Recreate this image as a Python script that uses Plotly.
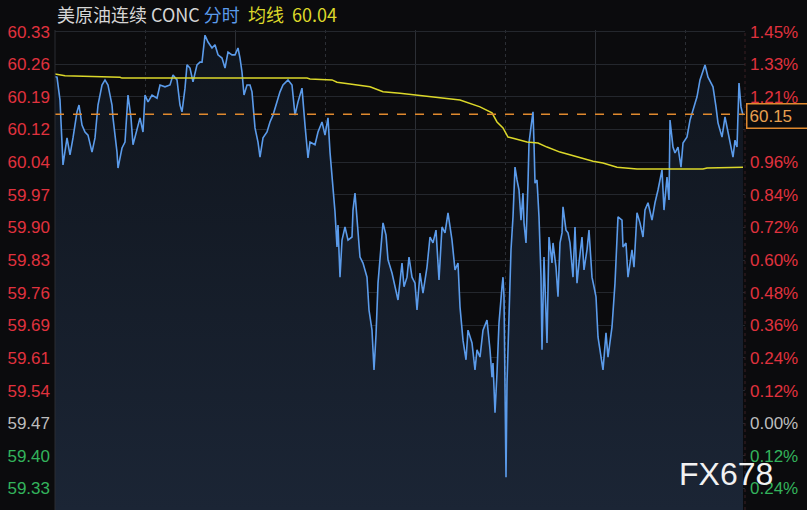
import plotly.graph_objects as go

# minutes since session open (0..1380) and price
t = [0, 4, 10, 14, 16, 24, 30, 36, 44, 48, 54, 60, 66, 74, 80, 86, 94, 100, 106, 114, 116, 124, 126, 134, 140,
     146, 152, 156, 164, 170, 176, 180, 186, 194, 204, 210, 220, 230, 236, 244, 250, 254, 260, 264, 270, 276,
     284, 290, 294, 300, 306, 314, 320, 326, 334, 340, 346, 354, 360, 366, 370, 374, 378, 384, 390, 394, 400,
     406, 410, 416, 424, 430, 436, 444, 450, 456, 466, 474, 480, 486, 494, 500, 506, 510, 520, 526, 534, 540,
     546, 550, 554, 560, 564, 566, 570, 574, 580, 586, 594, 596, 600, 604, 610, 616, 624, 628, 634, 638, 642,
     646, 652, 656, 662, 666, 674, 680, 686, 694, 698, 704, 708, 714, 720, 724, 730, 736, 744, 750, 756, 762,
     768, 774, 780, 786, 794, 800, 806, 810, 816, 822, 826, 834, 840, 844, 850, 856, 864, 870, 874, 876, 880,
     884, 888, 894, 896, 898, 902, 904, 908, 912, 916, 920, 924, 928, 932, 936, 938, 942, 946, 948, 952, 956,
     958, 960, 964, 968, 972, 974, 978, 982, 984, 988, 994, 996, 1002, 1006, 1010, 1014, 1016, 1022, 1026,
     1030, 1036, 1040, 1044, 1048, 1054, 1058, 1064, 1068, 1074, 1078, 1082, 1086, 1090, 1094, 1096, 1102,
     1106, 1114, 1120, 1126, 1134, 1136, 1142, 1146, 1154, 1158, 1164, 1170, 1176, 1180, 1186, 1194, 1200,
     1206, 1214, 1218, 1224, 1228, 1230, 1236, 1240, 1246, 1252, 1256, 1264, 1270, 1276, 1284, 1290, 1300,
     1306, 1312, 1316, 1322, 1326, 1334, 1340, 1344, 1350, 1356, 1360, 1364, 1368, 1372, 1376]
price = [60.232, 60.231, 60.181, 60.093, 60.039, 60.098, 60.061, 60.098, 60.155, 60.170, 60.126, 60.111, 60.104,
         60.067, 60.098, 60.170, 60.214, 60.225, 60.214, 60.170, 60.142, 60.067, 60.032, 60.076, 60.089, 60.192,
         60.142, 60.083, 60.120, 60.142, 60.111, 60.192, 60.177, 60.192, 60.185, 60.214, 60.210, 60.214, 60.236,
         60.225, 60.170, 60.155, 60.207, 60.258, 60.251, 60.221, 60.258, 60.264, 60.264, 60.323, 60.308, 60.295,
         60.302, 60.280, 60.273, 60.251, 60.286, 60.280, 60.280, 60.295, 60.273, 60.242, 60.192, 60.214, 60.214,
         60.199, 60.120, 60.089, 60.056, 60.098, 60.111, 60.133, 60.148, 60.177, 60.199, 60.214, 60.225, 60.214,
         60.148, 60.177, 60.207, 60.126, 60.054, 60.089, 60.083, 60.111, 60.133, 60.104, 60.142, 60.067, 60.017,
         59.936, 59.859, 59.907, 59.793, 59.874, 59.903, 59.874, 59.881, 59.940, 59.977, 59.925, 59.837, 59.824,
         59.793, 59.721, 59.677, 59.590, 59.666, 59.780, 59.868, 59.912, 59.885, 59.831, 59.802, 59.772, 59.743,
         59.824, 59.772, 59.793, 59.837, 59.793, 59.780, 59.721, 59.802, 59.758, 59.815, 59.881, 59.868, 59.896,
         59.787, 59.903, 59.890, 59.934, 59.874, 59.809, 59.824, 59.728, 59.655, 59.612, 59.677, 59.649, 59.590,
         59.634, 59.618, 59.677, 59.699, 59.634, 59.574, 59.605, 59.496, 59.583, 59.693, 59.772, 59.793, 59.750,
         59.355, 59.561, 59.706, 59.853, 59.925, 60.034, 60.006, 59.984, 59.918, 59.977, 59.912, 59.868, 59.999,
         60.087, 60.122, 60.155, 60.087, 59.999, 60.006, 59.925, 59.793, 59.634, 59.837, 59.706, 59.649, 59.881,
         59.824, 59.868, 59.815, 59.750, 59.868, 59.890, 59.947, 59.896, 59.890, 59.868, 59.793, 59.903, 59.780,
         59.824, 59.881, 59.809, 59.853, 59.896, 59.793, 59.772, 59.750, 59.662, 59.634, 59.605, 59.590, 59.671,
         59.618, 59.684, 59.780, 59.925, 59.918, 59.859, 59.868, 59.793, 59.853, 59.815, 59.934, 59.912, 59.881,
         59.940, 59.956, 59.918, 59.956, 59.984, 60.028, 59.940, 60.012, 59.962, 60.137, 60.078, 60.065, 60.078,
         60.034, 60.087, 60.100, 60.137, 60.159, 60.188, 60.225, 60.258, 60.231, 60.218, 60.210, 60.166, 60.131,
         60.100, 60.144, 60.122, 60.087, 60.056, 60.093, 60.078, 60.218, 60.166, 60.148]

avg_t = [0, 20, 130, 134, 504, 510, 554, 564, 590, 630, 656, 690, 810, 850, 874, 884, 896, 906, 920, 944, 966,
         984, 1010, 1044, 1076, 1096, 1124, 1164, 1296, 1304, 1376]
avg_price = [60.238, 60.234, 60.231, 60.229, 60.229, 60.227, 60.225, 60.220, 60.216, 60.210, 60.199, 60.196,
             60.181, 60.166, 60.153, 60.133, 60.120, 60.100, 60.096, 60.089, 60.087, 60.078, 60.067, 60.056,
             60.047, 60.043, 60.034, 60.030, 60.030, 60.032, 60.034]

last_price = 60.15
prev_close = 59.473
tick_step = 0.0715
left_labels = ["59.33", "59.40", "59.47", "59.54", "59.61", "59.69", "59.76", "59.83", "59.90", "59.97",
               "60.04", "60.12", "60.19", "60.26", "60.33"]
right_labels = ["0.24%", "0.12%", "0.00%", "0.12%", "0.24%", "0.36%", "0.48%", "0.60%", "0.72%", "0.84%",
                "0.96%", "", "1.21%", "1.33%", "1.45%"]
tick_index = list(range(-2, 13))

RED = "#e0323e"
GREEN = "#33b35c"
GRAY = "#bdbdbd"


def colored(label, k):
    c = RED if k > 0 else (GRAY if k == 0 else GREEN)
    return f"<span style='color:{c}'>{label}</span>"


tickvals = [prev_close + k * tick_step for k in tick_index]
left_text = [colored(s, k) for s, k in zip(left_labels, tick_index)]
right_text = [colored(s, k) for s, k in zip(right_labels, tick_index)]

yr = [59.283, 60.3344]
BG = "#0b0b0d"

fig = go.Figure()
fig.add_trace(go.Scatter(
    x=t, y=price, mode="lines", line=dict(color="#5b9bea", width=1.6),
    fill="tozeroy",
    fillgradient=dict(type="vertical", start=yr[0], stop=yr[1],
                      colorscale=[[0, "#1b2535"], [1, "#0f141c"]]),
    showlegend=False, hoverinfo="skip"))
fig.add_trace(go.Scatter(
    x=avg_t, y=avg_price, mode="lines", line=dict(color="#dcd82a", width=1.5),
    showlegend=False, hoverinfo="skip"))
fig.add_trace(go.Scatter(
    x=[0, 1380], y=[last_price, last_price], mode="lines",
    line=dict(color="#e0892e", width=1.4, dash="dash"),
    showlegend=False, hoverinfo="skip"))
# invisible trace for right axis
fig.add_trace(go.Scatter(x=[0], y=[last_price], yaxis="y2", mode="markers",
                         marker=dict(opacity=0), showlegend=False, hoverinfo="skip"))

axfont = dict(family="Liberation Sans, Arial, sans-serif", size=17, color=RED)
fig.update_layout(
    width=807, height=510,
    margin=dict(l=55, r=62, t=30, b=0),
    paper_bgcolor=BG, plot_bgcolor=BG,
    xaxis=dict(range=[0, 1380], showticklabels=False, zeroline=False,
               tick0=0, dtick=360, showgrid=True, gridcolor="#2c2f35", gridwidth=1,
               minor=dict(tick0=0, dtick=180, showgrid=True, gridcolor="#2c2f35", griddash="dot"),
               showline=False, automargin=False),
    yaxis=dict(range=yr, tickmode="array", tickvals=tickvals, ticktext=left_text,
               showgrid=True, gridcolor="#24272d", gridwidth=1, zeroline=False, automargin=False,
               tickfont=axfont, ticks="", ticklabelstandoff=4, showline=False, fixedrange=True),
    yaxis2=dict(range=yr, overlaying="y", side="right", tickmode="array", tickvals=tickvals,
                ticktext=right_text, showgrid=False, zeroline=False, tickfont=axfont, ticks="",
                ticklabelstandoff=4, showline=False, automargin=False),
)

fig.add_shape(type="line", xref="paper", yref="paper", x0=1, x1=1, y0=0, y1=1,
              line=dict(color="#3a2024", width=1, dash="dot"))
fig.add_shape(type="line", xref="paper", yref="paper", x0=0, x1=0, y0=0, y1=1,
              line=dict(color="#2a2d33", width=1))

# title
title_font = dict(family="Noto Sans CJK SC, sans-serif", size=18)
fig.add_annotation(
    xref="paper", yref="paper", x=0.0, y=1.0, yshift=1, xanchor="left", yanchor="bottom", showarrow=False,
    text="<span style='color:#d6d6d6'>美原油连续 CONC</span> <span style='color:#5b9bea'>分时</span>  "
         "<span style='color:#dcd82a'>均线</span>  <span style='color:#dcd82a'>60.04</span>",
    font=title_font)

# last price box
fig.add_annotation(
    xref="paper", yref="y", x=1.0, y=last_price, xanchor="left", yanchor="middle", showarrow=False,
    text=f"{last_price:.2f}", font=dict(family="Liberation Sans, Arial, sans-serif", size=17, color="#e8a050"),
    bgcolor=BG, bordercolor="#e0892e", borderwidth=1.5, borderpad=2, width=56, align="left",
    xshift=1, yshift=-2)

# watermark
fig.add_annotation(
    xref="paper", yref="paper", x=0.972, y=0.075, xanchor="center", yanchor="middle", showarrow=False,
    text="FX678", font=dict(family="Liberation Sans, Arial, sans-serif", size=32, color="#f2f2f2"))

fig.write_html("out.html", config={"displayModeBar": False},
               post_script="document.body.style.margin='0';")
